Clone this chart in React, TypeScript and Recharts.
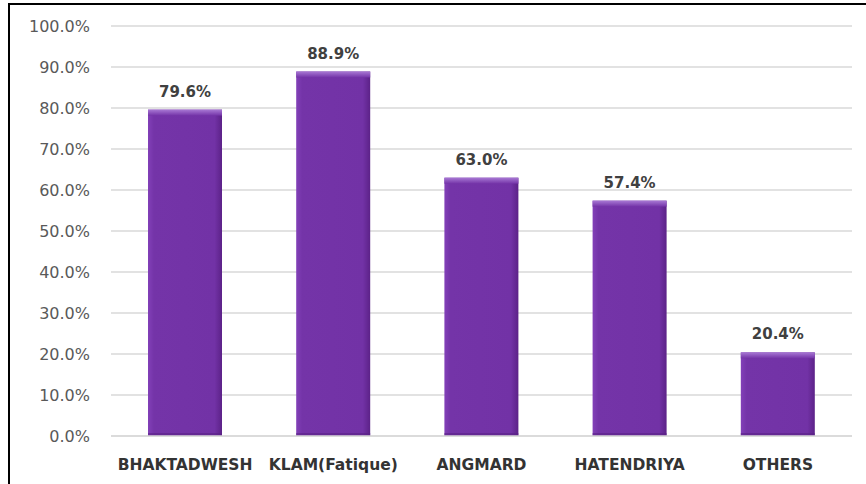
import React from 'react';
import { BarChart, Bar, XAxis, YAxis, CartesianGrid, LabelList } from 'recharts';

const categories = ['BHAKTADWESH', 'KLAM(Fatique)', 'ANGMARD', 'HATENDRIYA', 'OTHERS'];
const values = [79.6, 88.9, 63.0, 57.4, 20.4];
const yTicks = [0, 10, 20, 30, 40, 50, 60, 70, 80, 90, 100];

const data = categories.map((name, i) => ({ name, value: values[i] }));

const FONT = '"DejaVu Sans", sans-serif';

const BevelBar = (props: any) => {
  const { x, y, width, height } = props;
  if (!height || height <= 0) return null;
  const bev = Math.min(6, height / 2);
  return (
    <g>
      <rect x={x} y={y} width={width} height={height} fill="url(#barBody)" />
      <rect x={x} y={y} width={width} height={bev} fill="url(#barTop)" />
      <rect x={x} y={y + height - 3} width={width} height={3} fill="#5a2285" opacity={0.6} />
    </g>
  );
};

export default function App() {
  return (
    <div style={{ position: 'absolute', left: 0, top: 0, width: 866, height: 484, background: '#fff' }}>
      <div style={{ position: 'absolute', left: 8, top: 3, width: 858, height: 2, background: '#000' }} />
      <div style={{ position: 'absolute', left: 8, top: 3, width: 2, height: 481, background: '#000' }} />
      <div style={{ position: 'absolute', left: 0, top: 0 }}>
        <BarChart
          width={866}
          height={484}
          data={data}
          margin={{ top: 26, right: 14, bottom: 8, left: 0 }}
          barCategoryGap="25%"
        >
          <defs>
            <linearGradient id="barBody" x1="0" y1="0" x2="1" y2="0">
              <stop offset="0%" stopColor="#8240b8" />
              <stop offset="8%" stopColor="#7434a8" />
              <stop offset="90%" stopColor="#7232a6" />
              <stop offset="100%" stopColor="#5c2288" />
            </linearGradient>
            <linearGradient id="barTop" x1="0" y1="0" x2="0" y2="1">
              <stop offset="0%" stopColor="#a878d4" />
              <stop offset="100%" stopColor="#7434a8" />
            </linearGradient>
          </defs>
          <CartesianGrid vertical={false} stroke="#d9d9d9" strokeWidth={1.5} />
          <XAxis
            dataKey="name"
            height={40}
            tickLine={false}
            axisLine={{ stroke: '#d9d9d9', strokeWidth: 1.5 }}
            interval={0}
            tickMargin={17}
            tick={{ fill: '#333333', fontSize: 15.5, fontWeight: 700, fontFamily: FONT }}
          />
          <YAxis
            width={111}
            domain={[0, 100]}
            ticks={yTicks}
            interval={0}
            tickLine={false}
            axisLine={false}
            tickMargin={15}
            tickFormatter={(v: number) => v.toFixed(1) + '%'}
            tick={{ fill: '#595959', fontSize: 16, fontFamily: FONT }}
          />
          <Bar dataKey="value" barSize={74} shape={<BevelBar />} isAnimationActive={false}>
            <LabelList
              dataKey="value"
              position="top"
              offset={13}
              formatter={(v: number) => v.toFixed(1) + '%'}
              style={{ fill: '#404040', fontSize: 15, fontWeight: 700, fontFamily: FONT }}
            />
          </Bar>
        </BarChart>
      </div>
    </div>
  );
}
